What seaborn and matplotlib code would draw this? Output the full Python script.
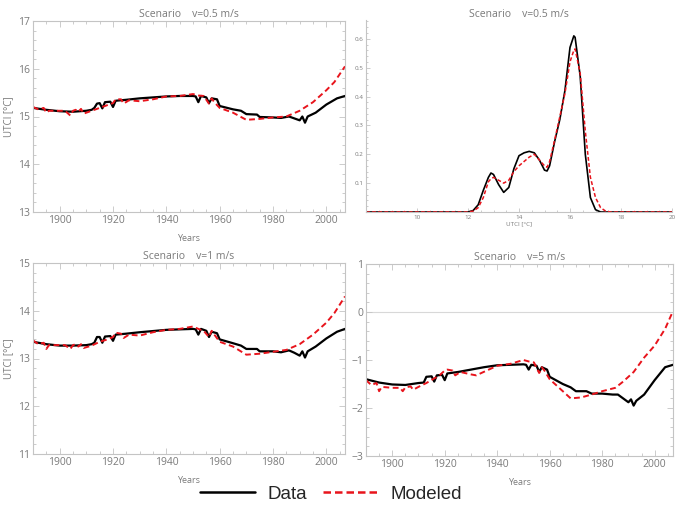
import numpy as np
import pandas as pd
import matplotlib
matplotlib.use("Agg")
import matplotlib.pyplot as plt
from matplotlib.lines import Line2D
from matplotlib.ticker import MultipleLocator
import seaborn as sns

## data
# scenario v=0.5 m/s, time series
yr_a_data = [1890, 1895, 1900, 1905, 1910, 1912, 1913, 1914, 1915, 1916, 1917, 1919, 1920,
             1921, 1925, 1930, 1940, 1945, 1950, 1951, 1952, 1953, 1955, 1956, 1957, 1959,
             1960, 1965, 1968, 1970, 1974, 1975, 1980, 1983, 1986, 1988, 1990, 1991, 1992,
             1993, 1996, 2000, 2004, 2007]
utci_a_data = [15.18, 15.14, 15.11, 15.10, 15.12, 15.14, 15.18, 15.27, 15.28, 15.17, 15.30,
               15.31, 15.20, 15.33, 15.35, 15.38, 15.42, 15.43, 15.43, 15.42, 15.30, 15.43,
               15.40, 15.28, 15.38, 15.36, 15.22, 15.15, 15.12, 15.05, 15.04, 14.99, 14.98,
               14.97, 15.00, 14.96, 14.92, 15.00, 14.87, 15.00, 15.08, 15.25, 15.38, 15.43]
yr_a_model = [1890, 1892, 1894, 1895, 1896, 1900, 1902, 1904, 1905, 1906, 1907, 1908, 1909,
              1912, 1915, 1918, 1920, 1921, 1923, 1924, 1926, 1930, 1935, 1940, 1945, 1950,
              1952, 1954, 1956, 1957, 1958, 1960, 1965, 1970, 1975, 1980, 1985, 1990, 1995,
              2000, 2003, 2007]
utci_a_model = [15.20, 15.15, 15.18, 15.08, 15.12, 15.12, 15.12, 15.02, 15.12, 15.14, 15.10,
                15.16, 15.06, 15.12, 15.18, 15.24, 15.28, 15.36, 15.36, 15.27, 15.34, 15.32,
                15.36, 15.42, 15.43, 15.47, 15.44, 15.43, 15.27, 15.38, 15.30, 15.18, 15.08,
                14.93, 14.95, 14.98, 15.00, 15.12, 15.30, 15.55, 15.72, 16.05]

# scenario v=0.5 m/s, density
dens_x = [8.0, 11.8, 12.0, 12.2, 12.4, 12.6, 12.8, 12.9, 13.0, 13.2, 13.4, 13.6, 13.8, 14.0,
          14.2, 14.4, 14.6, 14.8, 15.0, 15.1, 15.2, 15.4, 15.6, 15.8, 16.0, 16.15, 16.2,
          16.4, 16.6, 16.8, 17.0, 17.2, 17.4, 17.6, 20.0]
dens_data = [0, 0, 0.0, 0.005, 0.025, 0.075, 0.12, 0.135, 0.13, 0.095, 0.068, 0.085, 0.15,
             0.195, 0.205, 0.21, 0.205, 0.18, 0.145, 0.142, 0.16, 0.245, 0.32, 0.42, 0.57,
             0.61, 0.605, 0.47, 0.20, 0.05, 0.008, 0.0, 0, 0, 0]
dens_model = [0, 0, 0.0, 0.003, 0.015, 0.05, 0.105, 0.115, 0.12, 0.11, 0.10, 0.11, 0.14,
              0.16, 0.175, 0.19, 0.20, 0.18, 0.16, 0.155, 0.175, 0.25, 0.33, 0.41, 0.52,
              0.56, 0.565, 0.48, 0.28, 0.12, 0.05, 0.015, 0.003, 0.0, 0]

# scenario v=1 m/s
yr_b_data = yr_a_data
utci_b_data = [13.35, 13.30, 13.27, 13.27, 13.28, 13.30, 13.33, 13.45, 13.45, 13.33, 13.46,
               13.47, 13.37, 13.50, 13.52, 13.55, 13.60, 13.61, 13.62, 13.61, 13.50, 13.62,
               13.58, 13.45, 13.56, 13.53, 13.40, 13.32, 13.27, 13.20, 13.20, 13.15, 13.15,
               13.13, 13.17, 13.12, 13.06, 13.15, 13.02, 13.15, 13.25, 13.42, 13.56, 13.62]
yr_b_model = yr_a_model
utci_b_model = [13.38, 13.30, 13.33, 13.20, 13.28, 13.28, 13.28, 13.20, 13.28, 13.30, 13.25,
                13.30, 13.22, 13.27, 13.35, 13.40, 13.45, 13.54, 13.52, 13.43, 13.50, 13.48,
                13.55, 13.60, 13.62, 13.67, 13.62, 13.58, 13.45, 13.58, 13.50, 13.35, 13.25,
                13.08, 13.10, 13.14, 13.18, 13.30, 13.50, 13.75, 13.95, 14.30]

# scenario v=5 m/s
yr_c_data = [1890, 1895, 1900, 1905, 1910, 1912, 1913, 1915, 1916, 1917, 1919, 1920, 1921,
             1925, 1930, 1935, 1940, 1945, 1950, 1951, 1952, 1953, 1955, 1956, 1957, 1959,
             1960, 1965, 1968, 1970, 1974, 1976, 1980, 1984, 1986, 1990, 1991, 1992, 1993,
             1996, 2000, 2004, 2007]
utci_c_data = [-1.40, -1.47, -1.51, -1.52, -1.48, -1.47, -1.35, -1.34, -1.45, -1.32, -1.31,
               -1.42, -1.28, -1.25, -1.20, -1.15, -1.11, -1.10, -1.09, -1.10, -1.20, -1.10,
               -1.12, -1.25, -1.15, -1.20, -1.35, -1.50, -1.57, -1.65, -1.65, -1.70, -1.70,
               -1.72, -1.72, -1.88, -1.82, -1.95, -1.85, -1.72, -1.42, -1.15, -1.10]
yr_c_model = [1890, 1892, 1894, 1895, 1896, 1900, 1903, 1904, 1905, 1907, 1908, 1910, 1913,
              1918, 1920, 1921, 1923, 1924, 1926, 1930, 1932, 1936, 1940, 1945, 1950, 1952,
              1954, 1956, 1957, 1958, 1960, 1965, 1968, 1972, 1976, 1980, 1985, 1988, 1992,
              1996, 2000, 2004, 2007]
utci_c_model = [-1.42, -1.52, -1.48, -1.65, -1.56, -1.58, -1.58, -1.65, -1.57, -1.55, -1.62,
                -1.56, -1.48, -1.32, -1.22, -1.20, -1.22, -1.32, -1.25, -1.30, -1.32, -1.22,
                -1.12, -1.08, -1.00, -1.03, -1.05, -1.27, -1.15, -1.22, -1.40, -1.65, -1.80,
                -1.78, -1.72, -1.65, -1.58, -1.45, -1.25, -0.95, -0.70, -0.35, 0.02]

## style
sns.set_theme(style="white")
plt.rcParams["font.family"] = ["Open Sans", "DejaVu Sans"]
frame_col = "#c4c4c4"
text_col = "#7a7a7a"
red = "#e8141c"

fig = plt.figure(figsize=(6.8, 5.07), dpi=100)
W, H = 680, 507


def add_ax(l, t, r, b):
    return fig.add_axes([l / W, 1 - b / H, (r - l) / W, (b - t) / H])


def frame_style(ax, all_sides=True):
    for side, sp in ax.spines.items():
        sp.set_color(frame_col)
        sp.set_linewidth(0.8)
        if not all_sides and side in ("top", "right"):
            sp.set_visible(False)
    ax.tick_params(which="both", direction="in", color=frame_col, labelcolor=text_col,
                   top=all_sides, right=all_sides, bottom=True, left=True, width=0.6)
    ax.tick_params(which="major", length=4)
    ax.tick_params(which="minor", length=2)


def series_panel(ax, yd, vd, ym, vm, ylim, title, ylabel, xlabel=True):
    sns.lineplot(x=yd, y=vd, color="black", linewidth=1.6, ax=ax)
    sns.lineplot(x=ym, y=vm, color=red, linewidth=1.4, linestyle=(0, (3, 1.8)), ax=ax)
    ax.set_xlim(1890, 2007)
    ax.set_ylim(*ylim)
    ax.xaxis.set_major_locator(MultipleLocator(20))
    ax.xaxis.set_minor_locator(MultipleLocator(5))
    ax.yaxis.set_major_locator(MultipleLocator(1))
    ax.yaxis.set_minor_locator(MultipleLocator(0.2))
    frame_style(ax)
    ax.tick_params(labelsize=7.5, pad=2)
    ax.set_title(title, fontsize=7.5, color=text_col, pad=3)
    ax.set_ylabel(ylabel, fontsize=7, color=text_col, labelpad=3)
    ax.set_xlabel("Years" if xlabel else "", fontsize=6.5, color=text_col, labelpad=6)


ax1 = add_ax(33, 21, 345, 212)
series_panel(ax1, yr_a_data, utci_a_data, yr_a_model, utci_a_model, (13, 17),
             "Scenario    v=0.5 m/s", "UTCI [°C]")

ax2 = add_ax(366, 20, 672, 212)
sns.lineplot(x=dens_x, y=dens_data, color="black", linewidth=1.2, ax=ax2)
sns.lineplot(x=dens_x, y=dens_model, color=red, linewidth=1.1, linestyle=(0, (2.5, 1.5)), ax=ax2)
ax2.set_xlim(8, 20)
ax2.set_ylim(0, 0.665)
ax2.set_xticks([10, 12, 14, 16, 18, 20])
ax2.set_yticks([0.1, 0.2, 0.3, 0.4, 0.5, 0.6])
ax2.xaxis.set_minor_locator(MultipleLocator(0.5))
ax2.yaxis.set_minor_locator(MultipleLocator(0.02))
frame_style(ax2, all_sides=False)
ax2.tick_params(labelsize=4.5, pad=2)
ax2.tick_params(which="major", length=3)
ax2.tick_params(which="minor", length=1.5)
ax2.set_title("Scenario    v=0.5 m/s", fontsize=7.5, color=text_col, pad=1)
ax2.set_xlabel("UTCI [°C]", fontsize=4.5, color=text_col, labelpad=1)

ax3 = add_ax(33, 263, 345, 454)
series_panel(ax3, yr_b_data, utci_b_data, yr_b_model, utci_b_model, (11, 15),
             "Scenario    v=1 m/s", "UTCI [°C]")

ax4 = add_ax(366, 264, 673, 456)
ax4.axhline(0, color="#d8d8d8", linewidth=0.8, zorder=0)
series_panel(ax4, yr_c_data, utci_c_data, yr_c_model, utci_c_model, (-3, 1),
             "Scenario    v=5 m/s", "")

handles = [Line2D([], [], color="black", linewidth=1.8),
           Line2D([], [], color=red, linewidth=1.8, linestyle=(0, (3, 1.6)))]
fig.legend(handles, ["Data", "Modeled"], loc="center", bbox_to_anchor=(331 / W, 1 - 494 / H),
           ncol=2, frameon=False, handlelength=2.9, columnspacing=0.8, handletextpad=0.7,
           prop={"family": "Liberation Sans", "size": 13.5})

fig.savefig("out.png", dpi=100)
